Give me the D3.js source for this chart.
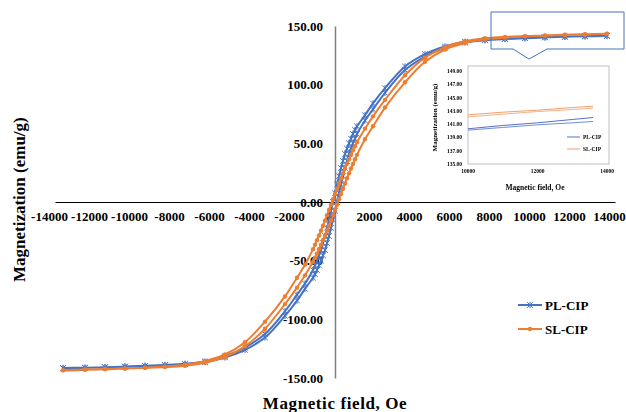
<!DOCTYPE html>
<html><head><meta charset="utf-8">
<script src="https://cdn.jsdelivr.net/npm/d3@7"></script>
<style>
body{margin:0;background:#fff}
svg{display:block}
text{font-family:"Liberation Serif","Times New Roman",serif;font-weight:bold;fill:#000}
</style>
</head><body>
<svg id="chart" width="626" height="412"></svg>
<script>
// Hysteresis loops: descending branch (+H -> -H) and ascending branch (-H -> +H)
const fieldDown = [13600,12500,11500,10500,9500,8500,7500,6500,5500,4500,3500,2500,1900,1500,1100,1000,900,800,700,600,500,400,300,200,100,0,-100,-200,-300,-400,-500,-600,-700,-800,-900,-1000,-1100,-1500,-1900,-2500,-3500,-4500,-5500,-6500,-7500,-8500,-9500,-10500,-11500,-12500,-13600];
const fieldUp = [-13600,-12500,-11500,-10500,-9500,-8500,-7500,-6500,-5500,-4500,-3500,-2500,-1900,-1500,-1100,-1000,-900,-800,-700,-600,-500,-400,-300,-200,-100,0,100,200,300,400,500,600,700,800,900,1000,1100,1500,1900,2500,3500,4500,5500,6500,7500,8500,9500,10500,11500,12500,13600];

const plDown = [141.7,141.3,140.9,140.4,139.8,139.2,138.2,136.5,132.5,126,115.5,97,84,74,64.5,61.5,58,54,50,45.5,41,35,29,22,15,7.5,0,-7.5,-15,-22,-29,-35,-41,-45.5,-50,-54,-58,-69.5,-79,-93,-112.5,-124,-131.5,-136,-137.9,-138.9,-139.6,-140.2,-140.8,-141.2,-141.5];
const plUp = [-141.7,-141.3,-140.9,-140.4,-139.8,-139.2,-138.2,-136.5,-132.5,-126,-115.5,-97,-84,-74,-64.5,-61.5,-58,-54,-50,-45.5,-41,-35,-29,-22,-15,-7.5,0,7.5,15,22,29,35,41,45.5,50,54,58,69.5,79,93,112.5,124,131.5,136,137.9,138.9,139.6,140.2,140.8,141.2,141.5];

const slDown = [143.5,143.0,142.5,142.0,141.4,140.7,139.5,137.0,132.0,123.0,108.0,87.0,73.0,62.5,51.0,47.5,44.0,40.3,36.4,32.5,28.5,24.4,20.2,15.8,11.3,6.8,2.3,-2.3,-6.8,-11.3,-15.8,-20.2,-24.4,-28.5,-32.5,-36.4,-40.2,-53.5,-64.5,-80.5,-102.0,-119.5,-130.0,-135.5,-138.6,-140.2,-141.2,-141.8,-142.3,-142.8,-143.3];
const slUp = [-143.5,-143.0,-142.5,-142.0,-141.4,-140.7,-139.5,-137.0,-132.0,-123.0,-108.0,-87.0,-73.0,-62.5,-51.0,-47.5,-44.0,-40.3,-36.4,-32.5,-28.5,-24.4,-20.2,-15.8,-11.3,-6.8,-2.3,2.3,6.8,11.3,15.8,20.2,24.4,28.5,32.5,36.4,40.2,53.5,64.5,80.5,102.0,119.5,130.0,135.5,138.6,140.2,141.2,141.8,142.3,142.8,143.3];

const xTicks = [-14000,-12000,-10000,-8000,-6000,-4000,-2000,0,2000,4000,6000,8000,10000,12000,14000];
const yTicks = [-150,-100,-50,0,50,100,150];

// Zoomed view of the saturation region
const insetField = [10000,11000,12000,13000,13600];
const insetPLUpper = [140.3,140.8,141.2,141.7,142.0];
const insetPLLower = [140.1,140.5,140.9,141.2,141.4];
const insetSLUpper = [142.4,142.8,143.1,143.5,143.7];
const insetSLLower = [142.1,142.5,142.9,143.2,143.4];
const insetXTicks = [10000,12000,14000];
const insetYTicks = [135,137,139,141,143,145,147,149];

const seriesNames = ["PL-CIP","SL-CIP"];
const BLUE = "#4472C4", ORANGE = "#ED7D31";

const svg = d3.select("#chart");
const x = d3.scaleLinear().domain([-14000,14000]).range([55,615]);
const y = d3.scaleLinear().domain([-150,150]).range([378,26]);

// Axes
const xAxis = svg.append("g").attr("transform",`translate(0,${y(0)})`)
  .call(d3.axisBottom(x).tickValues(xTicks).tickSize(0).tickSizeOuter(0).tickPadding(10).tickFormat(d=>String(d)));
xAxis.select(".domain").attr("stroke","#000").attr("stroke-width",1.2);
xAxis.selectAll("text").attr("font-size",13).attr("dx",-6)
  .style("font-family",'"Liberation Serif",serif').style("font-weight","bold").attr("fill","#000");

const yAxis = svg.append("g").attr("transform",`translate(${x(0)},0)`)
  .call(d3.axisLeft(y).tickValues(yTicks).tickSize(0).tickSizeOuter(0).tickPadding(12).tickFormat(d=>d.toFixed(2)));
yAxis.select(".domain").attr("stroke","#7f7f7f").attr("stroke-width",1.5);
yAxis.selectAll("text").attr("font-size",13)
  .style("font-family",'"Liberation Serif",serif').style("font-weight","bold").attr("fill","#000");

// Axis titles
svg.append("text").attr("x",x(0)).attr("y",409).attr("text-anchor","middle")
  .attr("font-size",17).attr("letter-spacing",0.6).text("Magnetic field, Oe");
svg.append("text").attr("transform",`translate(25,${y(2)}) rotate(-90)`).attr("text-anchor","middle")
  .attr("font-size",17).text("Magnetization (emu/g)");

// Series
const line = d3.line().x(d=>x(d[0])).y(d=>y(d[1])).curve(d3.curveCatmullRom.alpha(0.5));
function loop(fd, md, fu, mu){
  return fd.map((f,i)=>[f,md[i]]).concat(fu.map((f,i)=>[f,mu[i]]));
}
const plPts = loop(fieldDown, plDown, fieldUp, plUp);
const slPts = loop(fieldDown, slDown, fieldUp, slUp);

const starPath = "M-2.8,-2.8L2.8,2.8M-2.8,2.8L2.8,-2.8M0,-3.2V3.2";

function drawSeries(g, pts, color, marker){
  g.append("path").datum(pts).attr("d",line).attr("fill","none").attr("stroke",color).attr("stroke-width",2).attr("stroke-linejoin","round");
  if(marker==="star"){
    g.selectAll(null).data(pts).join("path").attr("d",starPath)
      .attr("transform",d=>`translate(${x(d[0])},${y(d[1])})`).attr("stroke",color).attr("stroke-width",1).attr("fill","none");
  } else {
    g.selectAll(null).data(pts).join("circle").attr("cx",d=>x(d[0])).attr("cy",d=>y(d[1])).attr("r",2.2).attr("fill",color);
  }
}
drawSeries(svg.append("g"), plPts, BLUE, "star");
drawSeries(svg.append("g"), slPts, ORANGE, "dot");

// Legend
const legend = svg.append("g");
seriesNames.forEach((name,i)=>{
  const ly = 305 + i*24;
  const color = i===0 ? BLUE : ORANGE;
  legend.append("line").attr("x1",518).attr("x2",542).attr("y1",ly).attr("y2",ly).attr("stroke",color).attr("stroke-width",2);
  if(i===0) legend.append("path").attr("d",starPath).attr("transform",`translate(530,${ly})`).attr("stroke",color).attr("fill","none");
  else legend.append("circle").attr("cx",530).attr("cy",ly).attr("r",2.2).attr("fill",color);
  legend.append("text").attr("x",545).attr("y",ly+4.5).attr("font-size",13).text(name);
});

// Callout marking the zoomed region
svg.append("path").attr("d","M491,12H624V49H547L529,59L513,49H491Z")
  .attr("fill","none").attr("stroke",BLUE).attr("stroke-width",1);

// Inset chart
const defs = svg.append("defs");
defs.append("filter").attr("id","soft").append("feGaussianBlur").attr("stdDeviation",0.45);
const inset = svg.append("g").attr("filter","url(#soft)");
inset.append("rect").attr("x",428).attr("y",63).attr("width",198).attr("height",134).attr("fill","#fff");
const ix = d3.scaleLinear().domain([10000,14000]).range([468,607]);
const iy = d3.scaleLinear().domain([135,149]).range([164,71]);
inset.append("rect").attr("x",ix(10000)).attr("y",66).attr("width",141).attr("height",iy(135)-66)
  .attr("fill","none").attr("stroke","#bfbfbf").attr("stroke-width",1);
inset.selectAll(".iyl").data(insetYTicks).join("text").attr("x",462).attr("y",d=>iy(d)+2)
  .attr("text-anchor","end").attr("font-size",5.5).attr("fill","#333").text(d=>d.toFixed(2));
inset.selectAll(".ixl").data(insetXTicks).join("text").attr("x",d=>ix(d)).attr("y",173)
  .attr("text-anchor","middle").attr("font-size",5.5).attr("fill","#333").text(d=>String(d));
inset.append("text").attr("x",535).attr("y",190).attr("text-anchor","middle").attr("font-size",7.5).attr("fill","#333").text("Magnetic field, Oe");
inset.append("text").attr("transform",`translate(437,${iy(142)}) rotate(-90)`).attr("text-anchor","middle").attr("font-size",7).attr("fill","#333").text("Magnetization (emu/g)");

const iline = d3.line().x((d,i)=>ix(insetField[i])).y(d=>iy(d));
[[insetPLUpper,"#5b6fc8"],[insetPLLower,"#6b8fd6"],[insetSLUpper,"#f2a06a"],[insetSLLower,"#f4b088"]].forEach(([vals,c])=>{
  inset.append("path").datum(vals).attr("d",iline).attr("fill","none").attr("stroke",c).attr("stroke-width",1);
});
seriesNames.forEach((name,i)=>{
  const ly = 137 + i*12;
  inset.append("line").attr("x1",567).attr("x2",580).attr("y1",ly).attr("y2",ly).attr("stroke",i===0?"#5b6fc8":"#f2a06a").attr("stroke-width",1);
  inset.append("text").attr("x",583).attr("y",ly+2).attr("font-size",5.5).attr("fill","#333").text(name);
});
</script>
</body></html>
